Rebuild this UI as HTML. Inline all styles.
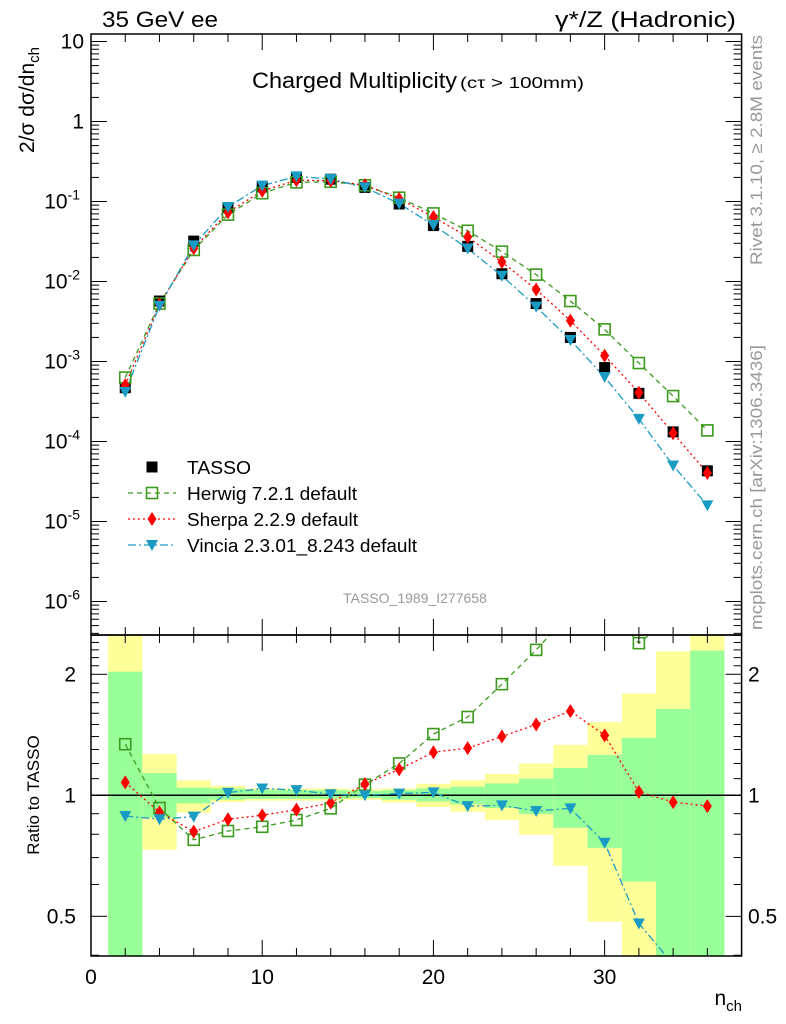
<!DOCTYPE html>
<html><head><meta charset="utf-8">
<style>
html,body{margin:0;padding:0;background:#fff;}
svg{display:block;font-family:"Liberation Sans",sans-serif;}
</style></head>
<body>
<svg id="chart" width="786" height="1024" viewBox="0 0 786 1024" xmlns="http://www.w3.org/2000/svg">
<text x="102" y="27" font-size="22" textLength="116" lengthAdjust="spacingAndGlyphs">35 GeV ee</text>
<text x="555" y="27" font-size="22" textLength="181" lengthAdjust="spacingAndGlyphs">γ*/Z (Hadronic)</text>
<text x="252" y="88" font-size="22" textLength="205" lengthAdjust="spacingAndGlyphs">Charged Multiplicity</text>
<text x="460" y="88" font-size="16" textLength="124" lengthAdjust="spacingAndGlyphs">(cτ &gt; 100mm)</text>
<text transform="translate(34,100) rotate(-90)" font-size="21" text-anchor="middle">2/σ dσ/dn<tspan font-size="15" dy="5">ch</tspan></text>
<text transform="translate(39,795) rotate(-90)" font-size="17" text-anchor="middle">Ratio to TASSO</text>
<text x="742" y="1005" font-size="21" text-anchor="end">n<tspan font-size="15" dy="6">ch</tspan></text>
<text transform="translate(762,265) rotate(-90)" font-size="17" fill="#999" textLength="230" lengthAdjust="spacingAndGlyphs">Rivet 3.1.10, ≥ 2.8M events</text>
<text transform="translate(762,630) rotate(-90)" font-size="17" fill="#999" textLength="285" lengthAdjust="spacingAndGlyphs">mcplots.cern.ch [arXiv:1306.3436]</text>
<text x="415" y="603" font-size="14" fill="#999" text-anchor="middle">TASSO_1989_I277658</text>
<g id="bands"></g>
<g id="ratioMarks"></g>
<g id="mainMarks"></g>
<g id="axes"></g>
<g id="legend"></g>
</svg>
<script>
// ---- data ----
const nch = [2,4,6,8,10,12,14,16,18,20,22,24,26,28,30,32,34,36];
const tasso = [4.7e-4,5.7e-3,3.2e-2,8.4e-2,0.152,0.200,0.190,0.150,0.093,0.050,0.0275,0.0125,0.0053,0.0020,8.4e-4,4.0e-4,1.32e-4,4.3e-5];
const herwigRatio = [1.34,0.93,0.775,0.815,0.835,0.868,0.928,1.063,1.20,1.42,1.566,1.89,2.30,2.85,3.0,2.39,2.8,3.2];
const sherpaRatio = [1.077,0.907,0.812,0.872,0.892,0.921,0.958,1.067,1.16,1.28,1.31,1.40,1.50,1.62,1.41,1.02,0.962,0.94];
const vinciaRatio = [0.888,0.872,0.885,1.015,1.04,1.03,1.006,1.0,1.01,1.017,0.94,0.944,0.914,0.928,0.762,0.48,0.38,0.37];
const yellowUp = [3,1.267,1.09,1.056,1.04,1.04,1.04,1.035,1.04,1.069,1.09,1.13,1.20,1.335,1.52,1.79,2.28,3];
const yellowDn = [0.3,0.732,0.905,0.962,0.97,0.97,0.97,0.975,0.96,0.935,0.91,0.868,0.797,0.668,0.485,0.3,0.3,0.3];
const greenUp = [2.03,1.136,1.045,1.04,1.03,1.03,1.03,1.025,1.03,1.04,1.05,1.07,1.10,1.17,1.26,1.39,1.64,2.29];
const greenDn = [0.3,0.88,0.955,0.975,0.98,0.98,0.98,0.985,0.975,0.965,0.95,0.93,0.898,0.83,0.74,0.61,0.3,0.3];
const mainTicks = [10,1,0.1,0.01,0.001,1e-4,1e-5,1e-6];
const mainTickLabels = ["10","1","10|-1","10|-2","10|-3","10|-4","10|-5","10|-6"];
const ratioTicks = [2,1,0.5];
const xTicks = [0,10,20,30];

// ---- axes ----
const X0=91, X1=741.6, XMAX=38;
const MT=34, MB=635, RT=635, RB=956;
const xs = v => X0 + v*(X1-X0)/XMAX;
const ys = v => 121.5 - Math.log10(v)*80;
const yr = v => 795.3 - Math.log10(v)*402;
const NS="http://www.w3.org/2000/svg";
function mk(tag, attrs, parent){const e=document.createElementNS(NS,tag);for(const k in attrs)e.setAttribute(k,attrs[k]);parent.appendChild(e);return e;}
const gB=document.getElementById('bands'), gR=document.getElementById('ratioMarks'), gM=document.getElementById('mainMarks'), gA=document.getElementById('axes'), gL=document.getElementById('legend');
const clampR = v => Math.max(RT, Math.min(RB, yr(v)));

nch.forEach((n,i)=>{
  const x=xs(n-1), w=xs(n+1)-xs(n-1);
  const a=clampR(yellowUp[i]), b=clampR(yellowDn[i]);
  const r=mk('rect',{x:x,y:a,width:w,height:b-a,fill:'#ffff99'},gB);
  
  
  const c=clampR(greenUp[i]), d=clampR(greenDn[i]);
  const g=mk('rect',{x:x,y:c,width:w,height:d-c,fill:'#99ff99'},gB);
  
  
});
const one=mk('line',{x1:X0,x2:X1,y1:yr(1),y2:yr(1),stroke:'#000','stroke-width':1.5},gB);



const series=[
 {name:'herwig',ratio:herwigRatio,color:'#3c9a1e',dash:'5,4',marker:'osq'},
 {name:'sherpa',ratio:sherpaRatio,color:'#ff0000',dash:'2,3',marker:'dia'},
 {name:'vincia',ratio:vinciaRatio,color:'#1a9bc4',dash:'8,3,2,3',marker:'tri'}
];
function marker(type,x,y,color,parent){
  let e;
  if(type==='osq') e=mk('rect',{x:x-5.5,y:y-5.5,width:11,height:11,fill:'none',stroke:color,'stroke-width':1.6},parent);
  else if(type==='sq') e=mk('rect',{x:x-5.5,y:y-5.5,width:11,height:11,fill:color},parent);
  else if(type==='dia') e=mk('polygon',{points:`${x},${y-7} ${x+4.5},${y} ${x},${y+7} ${x-4.5},${y}`,fill:color},parent);
  else e=mk('polygon',{points:`${x-6},${y-5} ${x+6},${y-5} ${x},${y+6}`,fill:color},parent);
  return e;
}
const cp=mk('clipPath',{id:'rclip'},gR); mk('rect',{x:X0,y:RT,width:X1-X0,height:RB-RT},cp);
const cpm=mk('clipPath',{id:'mclip'},gM); mk('rect',{x:X0,y:MT,width:X1-X0,height:MB-MT},cpm);
const rg=mk('g',{'clip-path':'url(#rclip)'},gR);
const mg=mk('g',{'clip-path':'url(#mclip)'},gM);
series.forEach(s=>{
  const pr=nch.map((n,i)=>xs(n)+','+yr(s.ratio[i])).join(' ');
  const l=mk('polyline',{points:pr,fill:'none',stroke:s.color,'stroke-width':1.3,'stroke-dasharray':s.dash},rg);
  
  
  const pm=nch.map((n,i)=>xs(n)+','+ys(s.ratio[i]*tasso[i])).join(' ');
  const l2=mk('polyline',{points:pm,fill:'none',stroke:s.color,'stroke-width':1.3,'stroke-dasharray':s.dash},mg);
  
  
});
nch.forEach((n,i)=>{
  const t=marker('sq',xs(n),ys(tasso[i]),'#000',mg);
  
  
});
series.forEach(s=>{
  nch.forEach((n,i)=>{
    const m=marker(s.marker,xs(n),ys(s.ratio[i]*tasso[i]),s.color,mg);
    
    
    const r=marker(s.marker,xs(n),yr(s.ratio[i]),s.color,rg);
    
    
  });
});

[[MT,MB],[RT,RB]].forEach((p,k)=>{
  const f=mk('rect',{x:X0,y:p[0],width:X1-X0,height:p[1]-p[0],fill:'none',stroke:'#000','stroke-width':1.5},gA);
  
  
});
[[MT,MB],[RT,RB]].forEach(p=>{
  for(let v=0;v<=38;v++){
    const major=v%10===0, mid=v%2===0;
    const L=major?16:(mid?8:0); if(!L) continue;
    mk('line',{x1:xs(v),x2:xs(v),y1:p[0],y2:p[0]+L,stroke:'#000','stroke-width':1},gA);
    mk('line',{x1:xs(v),x2:xs(v),y1:p[1],y2:p[1]-L,stroke:'#000','stroke-width':1},gA);
  }
});
xTicks.forEach(v=>{
  const t=mk('text',{x:xs(v),y:984,'font-size':21,'text-anchor':'middle'},gA);
  t.textContent=v;
  
  
});
for(let e=-7;e<=1;e++){
  for(let m=1;m<=9;m++){
    const v=m*Math.pow(10,e), y=ys(v);
    if(y<MT||y>MB) continue;
    const L=m===1?16:8;
    mk('line',{x1:X0,x2:X0+L,y1:y,y2:y,stroke:'#000','stroke-width':1},gA);
    mk('line',{x1:X1,x2:X1-L,y1:y,y2:y,stroke:'#000','stroke-width':1},gA);
  }
}
mainTicks.forEach((v,i)=>{
  const parts=mainTickLabels[i].split('|');
  const t=mk('text',{x:parts.length>1?80:84,y:ys(v)+7,'font-size':21,'text-anchor':'end'},gA);
  
  
  if(parts.length>1){
    t.textContent=parts[0];
    const s=mk('tspan',{'font-size':14,dy:-9},t); s.textContent=parts[1];
  } else t.textContent=parts[0];
});
[0.4,0.5,0.6,0.7,0.8,0.9,1,1.1,1.2,1.3,1.4,1.5,1.6,1.7,1.8,1.9,2,2.1,2.2,2.3,2.4,2.5].forEach(v=>{
  const y=yr(v); if(y<RT||y>RB) return;
  const L=(v===0.5||v===1||v===2)?16:8;
  mk('line',{x1:X0,x2:X0+L,y1:y,y2:y,stroke:'#000','stroke-width':1},gA);
  mk('line',{x1:X1,x2:X1-L,y1:y,y2:y,stroke:'#000','stroke-width':1},gA);
});
ratioTicks.forEach(v=>{
  const t=mk('text',{x:76,y:yr(v)+7,'font-size':21,'text-anchor':'end'},gA);
  t.textContent=v;
  
  
  const t2=mk('text',{x:748,y:yr(v)+7,'font-size':21},gA);
  t2.textContent=v;
  
  
});
const leg=[
 {label:'TASSO',color:'#000',marker:'sq',dash:null,w:64},
 {label:'Herwig 7.2.1 default',color:'#3c9a1e',marker:'osq',dash:'5,4',w:170},
 {label:'Sherpa 2.2.9 default',color:'#ff0000',marker:'dia',dash:'2,3',w:171},
 {label:'Vincia 2.3.01_8.243 default',color:'#1a9bc4',marker:'tri',dash:'8,3,2,3',w:230}
];
leg.forEach((e,i)=>{
  const y=467+i*26;
  const g=mk('g',{},gL);
  
  
  if(e.dash) mk('line',{x1:128,x2:176,y1:y,y2:y,stroke:e.color,'stroke-width':1.3,'stroke-dasharray':e.dash},g);
  marker(e.marker,152,y,e.color,g);
  const t=mk('text',{x:187,y:y+7,'font-size':18,textLength:e.w,lengthAdjust:'spacingAndGlyphs'},g);
  t.textContent=e.label;
});
</script>
</body></html>
